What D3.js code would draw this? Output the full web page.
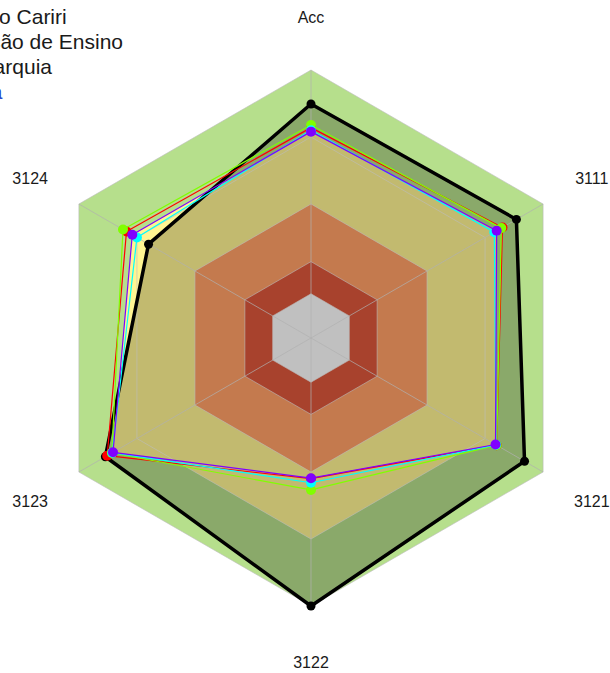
<!DOCTYPE html>
<html><head><meta charset="utf-8">
<script src="https://cdn.jsdelivr.net/npm/d3@7"></script>
<style>body{margin:0;background:#fff}svg{display:block}</style>
</head><body>
<script>
// ---- data ----
const axes = ["Acc", "3111", "3121", "3122", "3123", "3124"];
const ufcaValues   = [0.873, 0.885, 0.92, 1.0, 0.886, 0.70];
const redValues    = [0.785, 0.825, 0.80, 0.525, 0.878, 0.795];
const greenValues  = [0.795, 0.82, 0.80, 0.567, 0.858, 0.81];
const cyanValues   = [0.775, 0.79, 0.797, 0.54, 0.856, 0.75];
const purpleValues = [0.77, 0.80, 0.795, 0.523, 0.853, 0.77];
const bandLimits = [1.0, 0.75, 0.5, 0.285, 0.165];
const legendLabels = ["Universidade Federal do Cariri", "Mesma Organização de Ensino", "Mesma Hierarquia", "Média Brasileira"];

// ---- layout / style ----
const W = 610, H = 673, cx = 311, cy = 338, R = 268;
const bandColors = ["#b6df8c", "#fff592", "#c47a4e", "#a8422d", "#c0c0c0"];
const series = [
  {name: "UFCA", values: ufcaValues, color: "#000000"},
  {name: "red", values: redValues, color: "#ff0000"},
  {name: "green", values: greenValues, color: "#80ff00"},
  {name: "cyan", values: cyanValues, color: "#00ffff"},
  {name: "purple", values: purpleValues, color: "#8000ff"}
];

const svg = d3.select("body").append("svg").attr("width", W).attr("height", H)
  .style("font-family", "'Liberation Sans', Arial, sans-serif");
const r = d3.scaleLinear().domain([0, 1]).range([0, R]);
const angle = d3.scaleLinear().domain([0, axes.length]).range([0, 2 * Math.PI]);
const pt = (v, i) => [cx + r(v) * Math.sin(angle(i)), cy - r(v) * Math.cos(angle(i))];
const line = d3.line();
const poly = vals => line(vals.map(pt)) + "Z";
const ring = v => poly(axes.map(() => v));

const g = svg.append("g");
g.append("path").attr("d", ring(bandLimits[0])).attr("fill", bandColors[0]);
g.append("path").attr("d", poly(purpleValues)).attr("fill", bandColors[1]);
g.append("path").attr("d", ring(bandLimits[1])).attr("fill", bandColors[1]);
g.append("path").attr("d", poly(ufcaValues)).attr("fill", "#000").attr("fill-opacity", 0.24);
bandLimits.slice(2).forEach((b, k) => {
  g.append("path").attr("d", ring(b)).attr("fill", bandColors[k + 2]);
});
bandLimits.forEach(b => {
  g.append("path").attr("d", ring(b)).attr("fill", "none")
    .attr("stroke", "#bdbdbd").attr("stroke-opacity", 0.6).attr("stroke-width", 1);
});
axes.forEach((a, i) => {
  const [x, y] = pt(1, i);
  g.append("line").attr("x1", cx).attr("y1", cy).attr("x2", x).attr("y2", y)
    .attr("stroke", "#b0b0b0").attr("stroke-opacity", 0.7).attr("stroke-width", 1);
});

series.forEach((s, si) => {
  const sg = svg.append("g");
  sg.append("path").attr("d", poly(s.values)).attr("fill", "none")
    .attr("stroke", s.color).attr("stroke-width", si === 0 ? 3.5 : 1.2)
    .attr("stroke-linejoin", "round");
  sg.selectAll("circle").data(s.values).join("circle")
    .attr("cx", (v, i) => pt(v, i)[0]).attr("cy", (v, i) => pt(v, i)[1])
    .attr("r", si === 0 ? 4.5 : 5).attr("fill", s.color);
});

// axis labels
svg.selectAll("text.axis").data(axes).join("text").attr("class", "axis")
  .attr("x", (d, i) => pt(1.21, i)[0]).attr("y", (d, i) => pt(1.205, i)[1] + 7.5)
  .attr("text-anchor", "middle")
  .attr("font-size", 16).attr("fill", "#1a1a1a").text(d => d);

// legend (partly off-canvas on the left)
const legendEnds = [66.7, 123, 52, 2.5];
const legendColors = ["#1a1a1a", "#1a1a1a", "#1a1a1a", "#2b4acb"];
svg.selectAll("text.legend").data(legendLabels).join("text").attr("class", "legend")
  .attr("x", (d, i) => legendEnds[i]).attr("y", (d, i) => 23.5 + i * 25)
  .attr("text-anchor", "end").attr("font-size", 21)
  .attr("fill", (d, i) => legendColors[i]).text(d => d);
</script>
</body></html>
